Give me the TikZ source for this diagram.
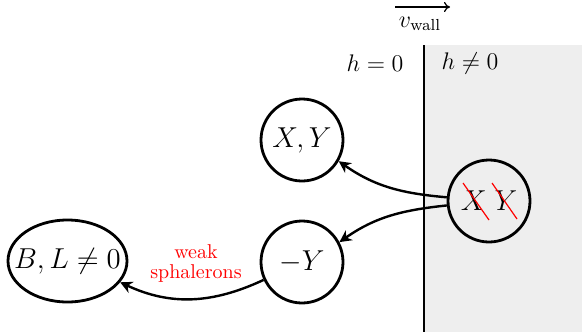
\documentclass[tikz,border=0pt]{standalone}
\usetikzlibrary{arrows.meta,shapes.geometric}
\definecolor{wallgray}{HTML}{EEEEEE}
\begin{document}
\begin{tikzpicture}[x=0.5pt,y=-0.5pt,
  bigmath/.style={font=\fontsize{14}{17}\selectfont},
  stat/.style={draw,circle,line width=1.4pt,minimum size=41pt,inner sep=0pt,bigmath},
  flow/.style={-{Stealth[length=6pt,width=6pt]},line width=1.2pt},
  strike/.style={red,line width=0.6pt}]
\useasboundingbox (0,0) rectangle (582,332);
\fill[wallgray] (424,45) rectangle (582,332);
\draw[line width=0.7pt] (424,45) -- (424,332);
\coordinate (va) at (395,7);
\coordinate (vb) at (450,7);
\draw[-{To[length=3pt,width=5pt]},line width=0.6pt] (va) -- (vb);
\node[font=\large] (vw) at (420,24) {$v_{\mathrm{wall}}$};
\node[font=\large] (h0) at (375,63) {$h=0$};
\node[font=\large] (hn) at (470,63) {$h\neq0$};
\node[stat] (xy) at (302,140) {$X,Y$};
\node[stat] (wall) at (489,201) {$X\;Y$};
\node[stat] (my) at (302,262) {$-Y$};
\node[draw,ellipse,line width=1.4pt,minimum width=59.5pt,minimum height=41pt,inner xsep=-7pt,inner ysep=0pt,bigmath] (bl) at (67.5,261) {$B,L\neq0$};
\draw[strike] (463,183) -- (489,220);
\draw[strike] (492,183) -- (517,219);
\draw[flow] (wall.175) to[out=175,in=-35] (xy.-30);
\draw[flow] (wall.186) to[out=186,in=35] (my.28);
\draw[flow] (my.205) to[out=205,in=-25] (bl.-22) ;
\node[red,align=center,font=\normalsize,inner sep=0pt] (ws) at (196,263) {weak\\[-2pt]sphalerons};
\end{tikzpicture}
\end{document}
